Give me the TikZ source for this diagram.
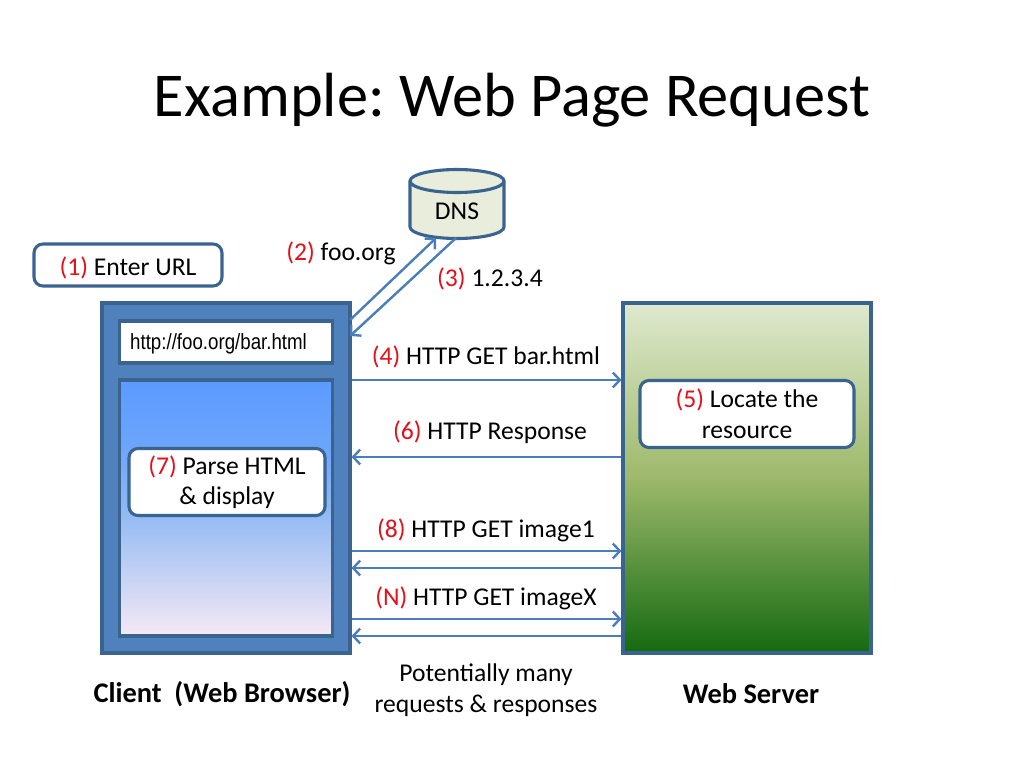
\documentclass[tikz,border=0pt]{standalone}
\usepackage{fontspec}
\setmainfont{Carlito}
\newfontfamily\arialfont{Liberation Sans}
\usetikzlibrary{arrows.meta}
\frenchspacing
\definecolor{edgeblue}{HTML}{3A6390}
\definecolor{fillblue}{HTML}{4F81BD}
\definecolor{arrowblue}{HTML}{4A7EBB}
\definecolor{numred}{HTML}{E3101A}
\definecolor{dnsfill}{HTML}{E9EDDC}
\definecolor{vtop}{HTML}{5B9BFF}
\definecolor{vmid}{HTML}{B0CBEA}
\definecolor{vbot}{HTML}{F6E9F5}
\pgfdeclareverticalshading{viewshadeb}{100bp}{
  color(0bp)=(vbot); color(25bp)=(vbot); color(50bp)=(vmid!60!vtop); color(62bp)=(vmid!20!vtop); color(75bp)=(vtop); color(100bp)=(vtop)}
\definecolor{stop}{HTML}{DFE9CE}
\definecolor{smid}{HTML}{9DB96B}
\definecolor{sbot}{HTML}{146A10}
\pgfdeclareverticalshading{servershade}{100bp}{
  color(0bp)=(sbot); color(25bp)=(sbot); color(50bp)=(smid); color(75bp)=(stop); color(100bp)=(stop)}
\tikzset{
  x=1pt,y=-1pt,
  lbl/.style={font=\fontsize{25.6}{31}\selectfont,align=center,inner sep=0pt,text=black},
  callout/.style={lbl,draw=edgeblue,line width=3.1pt,fill=white,rounded corners=9pt},
  panel/.style={draw=edgeblue,line width=3.1pt},
  flow/.style={draw=arrowblue,line width=2.4pt,-{Straight Barb[length=7pt,width=15pt,line width=2.4pt]}},
  bold label/.style={lbl,font=\fontsize{28.4}{34}\selectfont\bfseries}
}
\newcommand{\num}[1]{\textcolor{numred}{(#1)}}
\begin{document}
\begin{tikzpicture}
\useasboundingbox[fill=white] (0,0) rectangle (1024,768);
\node[inner sep=0pt,font=\fontsize{62.4}{70}\selectfont] (title) at (512,100) {Example: Web Page Request};
% browser
\node[panel,fill=fillblue,minimum width=248pt,minimum height=350pt,inner sep=0pt] (browser) at (226,478) {};
\node[panel,fill=white,minimum width=213pt,minimum height=42pt,inner sep=0pt] (urlbar) at (226,342) {};
\node[inner sep=0pt,font=\arialfont\fontsize{22}{24}\selectfont,anchor=west,xscale=0.85] (url) at (130,344) {http://foo.org/bar.html};
\node[panel,shading=viewshadeb,minimum width=213pt,minimum height=256pt,inner sep=0pt] (view) at (226,508) {};
\node[panel,shading=servershade,minimum width=248pt,minimum height=350pt,inner sep=0pt] (server) at (747,478) {};
% callouts
\node[callout,minimum width=188pt,minimum height=42pt,text depth=0pt] (enter) at (128,265) {\raisebox{-2pt}{\num{1} Enter URL}};
\node[callout,minimum width=214pt,minimum height=67pt] (locate) at (747,414) {\num{5} Locate the\\resource};
\node[callout,minimum width=196pt,minimum height=67pt] (parse) at (227,482) {\raisebox{-1.5pt}{\num{7} Parse HTML}\\\&~display};
% DNS
\draw[draw=edgeblue,line width=3.1pt,fill=dnsfill]
  (410,181) -- (410,227) arc[start angle=180,end angle=360,x radius=47pt,y radius=11.5pt] -- (504,181)
  arc[start angle=0,end angle=180,x radius=47pt,y radius=11.5pt] -- cycle;
\draw[draw=edgeblue,line width=3.1pt] (410,181) arc[start angle=180,end angle=360,x radius=47pt,y radius=11.5pt];
\node[inner sep=0pt,minimum width=94pt,minimum height=46pt,font=\fontsize{25.6}{31}\selectfont] (dns) at (457,211) {DNS};
% connectors
\coordinate (dnsin) at (436,238);
\coordinate (dnsout) at (456,238);
\coordinate (brout) at (350,320);
\coordinate (brin) at (350,336);
\draw[flow] (brout) -- (dnsin);
\draw[flow] (dnsout) -- (brin);
\draw[flow] (browser.east |- 0,380) -- (server.west |- 0,380);
\draw[flow] (server.west |- 0,457) -- (browser.east |- 0,457);
\draw[flow] (browser.east |- 0,551) -- (server.west |- 0,551);
\draw[flow] (server.west |- 0,568) -- (browser.east |- 0,568);
\draw[flow] (browser.east |- 0,619) -- (server.west |- 0,619);
\draw[flow] (server.west |- 0,636) -- (browser.east |- 0,636);
% labels
\node[lbl] (l2) at (341,253) {\num{2} foo.org};
\node[lbl] (l3) at (490,279) {\num{3} 1.2.3.4};
\node[lbl] (l4) at (486,357) {\num{4} HTTP GET bar.html};
\node[lbl] (l6) at (490,432) {\num{6} HTTP Response};
\node[lbl] (l8) at (486,530) {\num{8} HTTP GET image1};
\node[lbl] (lN) at (486,598) {\num{N} HTTP GET imageX};
\node[lbl] (many) at (486,690) {Potentially many\\requests \& responses};
\node[bold label] (client) at (222,694) {Client\ \ (Web Browser)};
\node[bold label] (srv) at (751,694) {Web Server};
\end{tikzpicture}
\end{document}
